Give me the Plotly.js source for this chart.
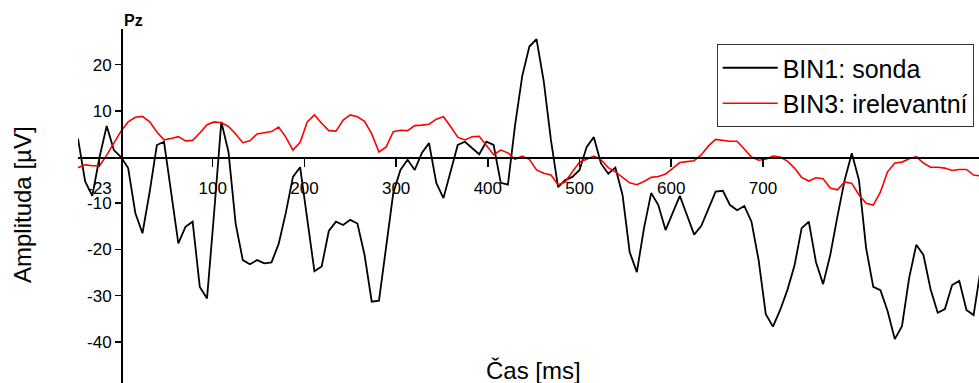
<!DOCTYPE html>
<html>
<head>
<meta charset="utf-8">
<script src="https://cdn.plot.ly/plotly-3.0.1.min.js"></script>
<style>html,body{margin:0;padding:0;background:#fff;}#chart{width:979px;height:383px;}</style>
</head>
<body>
<div id="chart"></div>
<script>
// time of each sample [ms] (128 Hz sampling)
const timeMs = [-46.9,-39.1,-31.3,-23.4,-15.6,-7.8,0,7.8,15.6,23.4,31.3,39.1,46.9,54.7,62.5,70.3,78.1,85.9,93.8,101.6,109.4,117.2,125.0,132.8,140.6,148.4,156.3,164.1,171.9,179.7,187.5,195.3,203.1,210.9,218.8,226.6,234.4,242.2,250.0,257.8,265.6,273.4,281.3,289.1,296.9,304.7,312.5,320.3,328.1,335.9,343.8,351.6,359.4,367.2,375.0,382.8,390.6,398.4,406.3,414.1,421.9,429.7,437.5,445.3,453.1,460.9,468.8,476.6,484.4,492.2,500.0,507.8,515.6,523.4,531.3,539.1,546.9,554.7,562.5,570.3,578.1,585.9,593.8,601.6,609.4,617.2,625.0,632.8,640.6,648.4,656.3,664.1,671.9,679.7,687.5,695.3,703.1,710.9,718.8,726.6,734.4,742.2,750.0,757.8,765.6,773.4,781.3,789.1,796.9,804.7,812.5,820.3,828.1,835.9,843.8,851.6,859.4,867.2,875.0,882.8,890.6,898.4,906.3,914.1,921.9,929.7,937.5];

// BIN1: sonda [µV]
const bin1 = [4.0,-5.3,-8.4,0.0,6.7,1.5,0.0,-2.4,-12.1,-16.5,-7.5,2.6,3.3,-7.6,-18.7,-15.1,-14.0,-28.1,-30.6,-11.9,7.6,1.1,-14.4,-22.3,-23.2,-22.3,-23.0,-22.8,-18.8,-12.1,-4.3,-2.2,-13.5,-24.7,-23.7,-16.0,-14.0,-14.7,-13.6,-14.4,-21.2,-31.3,-31.1,-19.0,-7.8,-2.8,-0.6,-2.8,0.9,3.0,-5.6,-8.9,-3.2,2.6,3.3,1.9,0.6,3.3,2.6,-5.6,-6.0,6.9,17.5,23.9,25.5,16.5,3.7,-6.5,-5.0,-4.3,-2.8,2.2,4.3,-1.4,-3.6,-2.3,-8.2,-20.6,-24.9,-15.4,-7.8,-10.4,-15.8,-12.1,-8.4,-12.6,-16.8,-14.9,-11.0,-7.5,-7.3,-10.4,-11.5,-10.6,-14.0,-22.3,-34.0,-36.7,-33.1,-28.8,-23.5,-15.4,-14.0,-22.7,-27.5,-21.2,-12.8,-5.0,0.8,-5.0,-19.7,-28.1,-28.8,-33.3,-39.4,-36.6,-26.2,-19.0,-21.2,-28.6,-33.7,-32.9,-27.7,-26.8,-33.1,-34.2,-24.2];

// BIN3: irelevantní [µV]
const bin3 = [-2.3,-1.7,-1.9,-1.9,0.4,3.0,5.6,7.6,8.6,8.8,7.6,5.4,3.7,4.0,4.4,3.5,3.6,5.2,7.0,7.6,7.4,6.6,5.0,3.1,3.5,5.0,5.2,5.5,6.5,4.3,1.5,3.2,7.6,9.1,7.3,5.7,5.6,8.0,9.1,8.7,7.7,5.0,1.1,2.2,5.5,5.8,5.7,6.8,6.9,7.1,8.2,8.7,6.6,4.3,3.7,4.4,4.5,2.4,0.5,1.5,0.9,-0.5,0.2,-0.5,-2.8,-3.5,-3.9,-6.0,-5.4,-3.2,-1.1,-0.5,0.2,-0.6,-2.3,-3.2,-4.4,-5.6,-6.0,-5.3,-4.4,-4.2,-3.7,-2.4,-1.2,-1.0,-0.8,0.5,2.4,3.8,3.6,3.4,3.4,1.8,0.0,-0.7,-0.5,0.2,0.0,-0.9,-2.4,-4.4,-5.2,-4.5,-4.7,-6.7,-7.1,-5.4,-5.7,-8.2,-10.0,-10.4,-7.6,-3.2,-1.3,-1.1,-0.4,0.1,-1.3,-2.2,-2.2,-2.4,-2.9,-2.7,-2.7,-3.9,-4.1];

const xTickVals = [-23.4375, 100, 200, 300, 400, 500, 600, 700];
const xTickText = ['-23', '100', '200', '300', '400', '500', '600', '700'];
const yTickVals = [-40, -30, -20, -10, 10, 20];
const yTickText = ['-40', '-30', '-20', '-10', '10', '20'];

const xRange = [-46.9, 935.6];
const yRange = [-48.9, 27.7];

const FONT = '"Liberation Sans", Arial, sans-serif';

const traces = [
  {x: timeMs, y: bin1, type: 'scatter', mode: 'lines', name: 'BIN1: sonda',
   line: {color: '#000000', width: 1.8}},
  {x: timeMs, y: bin3, type: 'scatter', mode: 'lines', name: 'BIN3: irelevantní',
   line: {color: '#ff0000', width: 1.6}}
];

const layout = {
  width: 979, height: 383,
  margin: {l: 78, r: 0, t: 29, b: 0, pad: 0},
  paper_bgcolor: '#ffffff', plot_bgcolor: '#ffffff',
  font: {family: FONT, color: '#000000', size: 17},
  showlegend: true,
  legend: {
    x: (716.7 - 78) / 901, y: 1 - (44 - 29) / 354, xanchor: 'left', yanchor: 'top',
    bgcolor: '#ffffff', bordercolor: '#333333', borderwidth: 1,
    font: {family: FONT, size: 25, color: '#000000'},
    itemwidth: 55, tracegroupgap: 0
  },
  xaxis: {
    range: xRange, anchor: 'free', position: (0 - yRange[0]) / (yRange[1] - yRange[0]),
    showline: true, linecolor: '#000000', linewidth: 1.5,
    showgrid: false, zeroline: false,
    tickmode: 'array', tickvals: xTickVals, ticktext: xTickText,
    ticks: 'outside', ticklen: 8, tickwidth: 1.5, tickcolor: '#000000',
    ticklabelstandoff: 7,
    tickfont: {family: FONT, size: 17, color: '#000000'}
  },
  yaxis: {
    range: yRange, anchor: 'free', position: (0 - xRange[0]) / (xRange[1] - xRange[0]),
    showline: true, linecolor: '#000000', linewidth: 1.5,
    showgrid: false, zeroline: false,
    tickmode: 'array', tickvals: yTickVals, ticktext: yTickText,
    ticks: 'outside', ticklen: 6, tickwidth: 1.5, tickcolor: '#000000',
    tickfont: {family: FONT, size: 17, color: '#000000'}
  },
  annotations: [
    {text: '<b>Pz</b>', xref: 'paper', yref: 'paper', x: (122 - 78) / 901, y: 1 + (29 - 21) / 354,
     xanchor: 'left', yanchor: 'middle', showarrow: false, font: {family: FONT, size: 16, color: '#000000'}},
    {text: 'Čas [ms]', xref: 'paper', yref: 'paper', x: (533.3 - 78) / 901, y: (383 - 370) / 354,
     xanchor: 'center', yanchor: 'middle', showarrow: false, borderpad: 0,
     font: {family: FONT, size: 24, color: '#000000'}},
    {text: 'Amplituda [µV]', xref: 'paper', yref: 'paper', x: (22 - 78) / 901, y: (383 - 205) / 354,
     xanchor: 'center', yanchor: 'middle', textangle: -90, showarrow: false,
     font: {family: FONT, size: 24, color: '#000000'}}
  ]
};

Plotly.newPlot('chart', traces, layout, {staticPlot: true, displayModeBar: false});
</script>
</body>
</html>
